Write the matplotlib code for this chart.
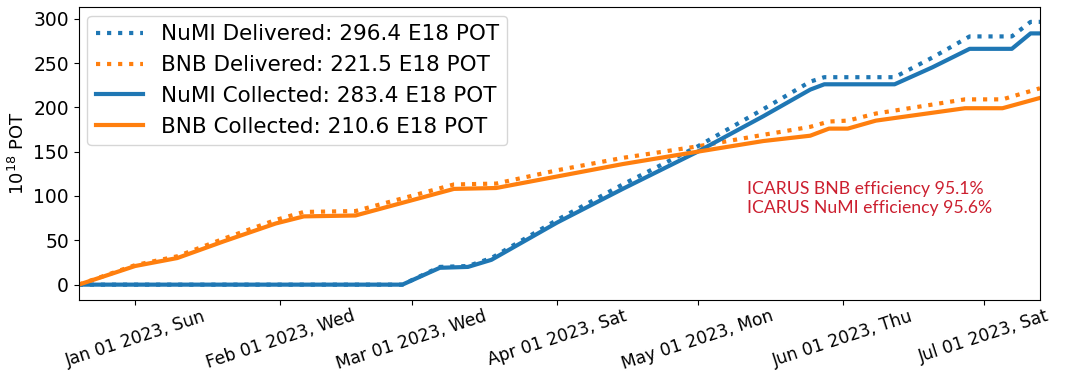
import matplotlib
matplotlib.use("Agg")
import matplotlib.pyplot as plt
import matplotlib.dates as mdates
import numpy as np

# cumulative protons on target, 10^18 POT
bnb_dates = ["2022-12-20", "2023-01-01", "2023-01-10", "2023-01-20", "2023-01-31",
             "2023-02-06", "2023-02-17", "2023-03-10", "2023-03-19", "2023-04-01",
             "2023-04-15", "2023-05-01", "2023-05-15", "2023-05-25", "2023-05-29",
             "2023-06-02", "2023-06-08", "2023-06-27", "2023-07-05", "2023-07-13"]
bnb_collected = [0, 21, 30, 49, 69, 77, 78, 108, 109, 122,
                 136, 150, 162, 168, 176, 176, 185, 199, 199, 210.6]
bnb_delivered = [0, 22, 32, 52, 73, 82, 83, 113, 114, 129,
                 143, 156, 169, 178, 184, 185, 193, 209, 209, 221.5]

numi_dates = ["2022-12-20", "2023-02-27", "2023-03-07", "2023-03-13", "2023-03-18",
              "2023-04-01", "2023-04-15", "2023-05-01", "2023-05-15", "2023-05-25",
              "2023-05-28", "2023-06-12", "2023-06-20", "2023-06-28", "2023-07-07",
              "2023-07-11", "2023-07-13"]
numi_collected = [0, 0, 19, 20, 28, 70, 108, 150, 190, 220,
                  226, 226, 245, 266, 266, 283.4, 283.4]
numi_delivered = [0, 0, 20, 21, 30, 73, 113, 156, 198, 229,
                  234, 234, 256, 280, 280, 296.4, 296.4]

bnb_t = np.array(bnb_dates, dtype="datetime64[D]")
numi_t = np.array(numi_dates, dtype="datetime64[D]")

fig = plt.figure(figsize=(10.65, 3.77), dpi=100)
ax = fig.add_axes([0.074, 0.205, 0.9025, 0.776])

ax.plot(numi_t, numi_delivered, ':', color='tab:blue', lw=3,
        label=f"NuMI Delivered: {numi_delivered[-1]} E18 POT")
ax.plot(bnb_t, bnb_delivered, ':', color='tab:orange', lw=3,
        label=f"BNB Delivered: {bnb_delivered[-1]} E18 POT")
ax.plot(numi_t, numi_collected, '-', color='tab:blue', lw=3,
        label=f"NuMI Collected: {numi_collected[-1]} E18 POT")
ax.plot(bnb_t, bnb_collected, '-', color='tab:orange', lw=3,
        label=f"BNB Collected: {bnb_collected[-1]} E18 POT")

ax.set_xlim(bnb_t[0], bnb_t[-1])
ax.set_ylim(-17, 313)
ax.set_yticks(range(0, 301, 50))
ax.tick_params(axis="y", labelsize=13.5)
ax.tick_params(axis="x", labelsize=12.3, pad=2)
ax.set_ylabel("10$^{18}$ POT", fontsize=13)

ax.xaxis.set_major_locator(mdates.MonthLocator())
ax.xaxis.set_major_formatter(mdates.DateFormatter("%b %d %Y, %a"))
for lbl in ax.get_xticklabels():
    lbl.set_rotation(18)
    lbl.set_ha("center")

ax.legend(loc="upper left", fontsize=15.5, handlelength=2.2, borderaxespad=0.4)

ax.text(0.695, 0.347, "ICARUS BNB efficiency 95.1%\nICARUS NuMI efficiency 95.6%",
        transform=ax.transAxes, color='#cc2030', fontsize=12.7,
        family=["Lato", "DejaVu Sans"], va="center", linespacing=1.25)

fig.savefig("out.png")
